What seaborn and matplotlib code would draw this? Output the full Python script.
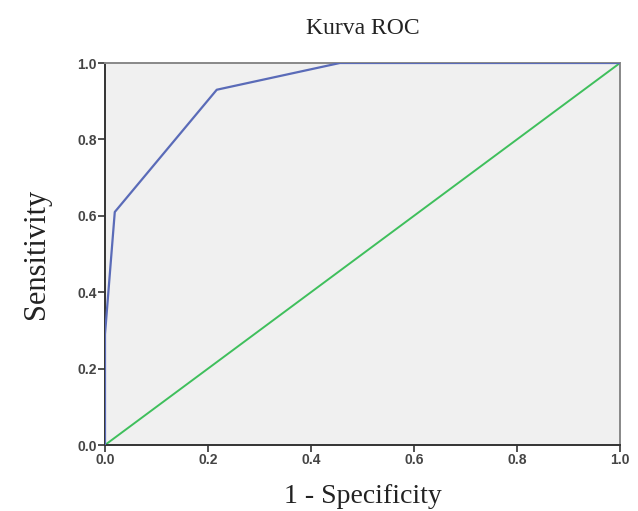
import numpy as np
import pandas as pd
import matplotlib
matplotlib.use('Agg')
import matplotlib.pyplot as plt
import seaborn as sns

# ROC curve points
fpr = [0.0, 0.0, 0.019, 0.217, 0.456, 1.0]
tpr = [0.0, 0.29, 0.61, 0.93, 1.0, 1.0]
# reference line
ref_x = [0.0, 1.0]
ref_y = [0.0, 1.0]

ticks = [0.0, 0.2, 0.4, 0.6, 0.8, 1.0]
tick_labels = ['0.0', '0.2', '0.4', '0.6', '0.8', '1.0']

sns.set_style('ticks')
plt.rcParams['font.family'] = ['Liberation Sans', 'DejaVu Sans']

fig = plt.figure(figsize=(6.38, 5.11), dpi=100)
ax = fig.add_axes([105 / 638, 66 / 511, 515 / 638, 382 / 511])
ax.set_facecolor('#f0f0f0')

roc = pd.DataFrame({'x': fpr, 'y': tpr})
diag = pd.DataFrame({'x': ref_x, 'y': ref_y})
sns.lineplot(data=roc, x='x', y='y', ax=ax, color='#5a6bb8', lw=1.6, sort=False,
             estimator=None, zorder=3)
sns.lineplot(data=diag, x='x', y='y', ax=ax, color='#3fbf5c', lw=1.4,
             estimator=None, zorder=2)

ax.set_xlim(0, 1)
ax.set_ylim(0, 1)
ax.set_xticks(ticks)
ax.set_xticklabels(tick_labels)
ax.set_yticks(ticks)
ax.set_yticklabels(tick_labels)
ax.tick_params(axis='both', direction='out', length=5, width=1.2, color='#333333',
               labelsize=10, labelcolor='#444444', pad=1)
for lbl in ax.get_xticklabels() + ax.get_yticklabels():
    lbl.set_fontweight('bold')

for side in ['left', 'bottom']:
    ax.spines[side].set_color('#333333')
    ax.spines[side].set_linewidth(1.4)
for side in ['top', 'right']:
    ax.spines[side].set_visible(True)
    ax.spines[side].set_color('#888888')
    ax.spines[side].set_linewidth(1.4)

serif = ['Liberation Serif', 'DejaVu Serif']
ax.set_title('Kurva ROC', fontsize=17, family=serif, color='#222222', pad=21)
ax.set_xlabel('1 - Specificity', fontsize=20, family=serif, color='#222222', labelpad=12)
ax.set_ylabel('Sensitivity', fontsize=22, family=serif, color='#222222', labelpad=19)

fig.savefig('out.png', dpi=100, facecolor='white')
